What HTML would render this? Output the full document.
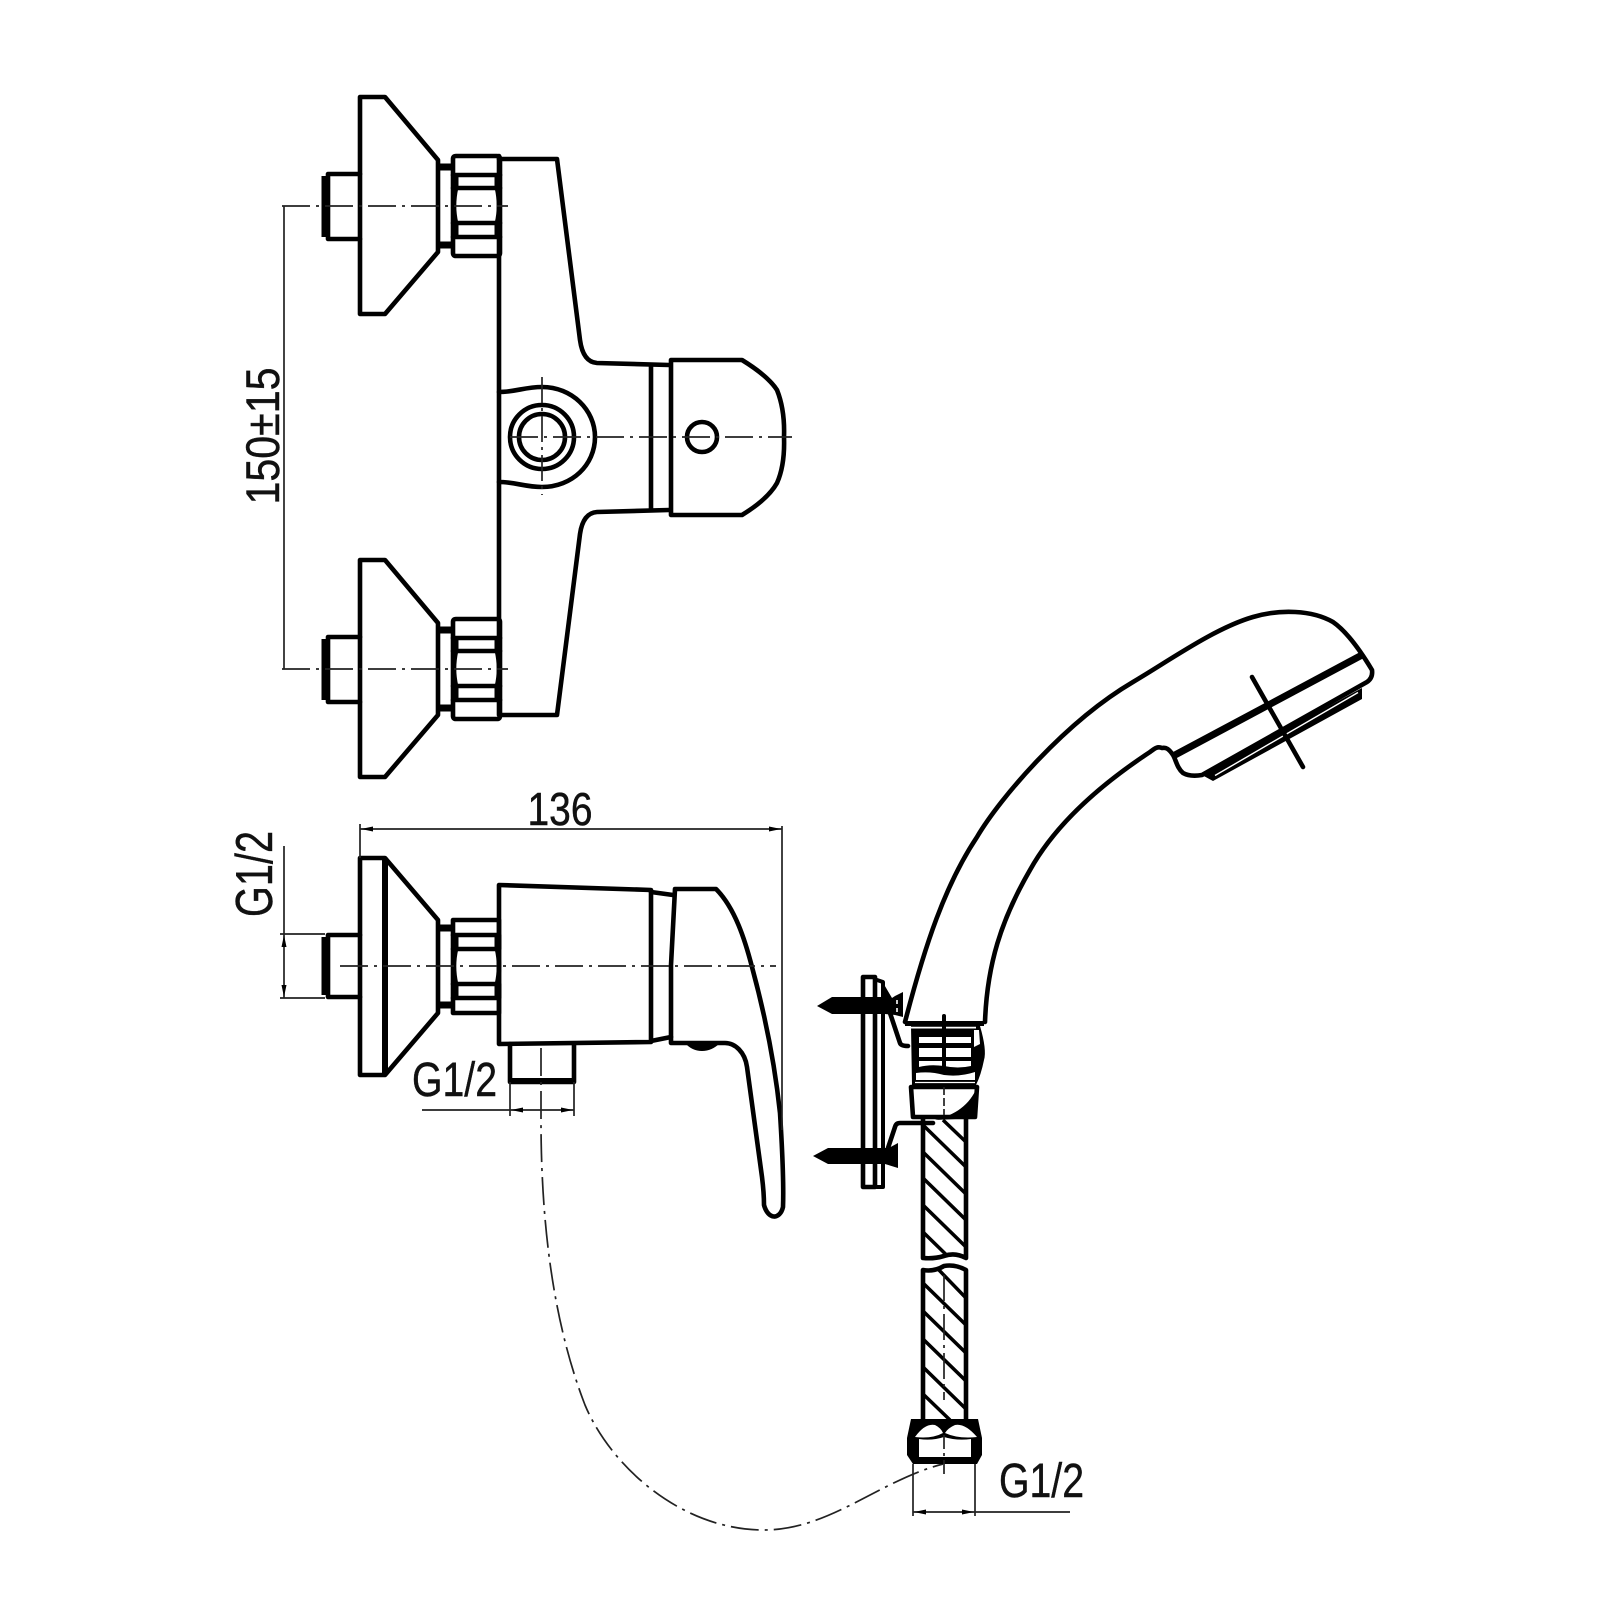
<!DOCTYPE html>
<html><head><meta charset="utf-8"><style>
html,body{margin:0;padding:0;background:#fff}
svg{display:block}
text{font-family:"Liberation Sans Narrow","Liberation Sans",sans-serif;fill:#111;stroke:#111;stroke-width:.45}
.o{fill:none;stroke:#000;stroke-width:4.6;stroke-linejoin:round;stroke-linecap:round}
.b{fill:none;stroke:#000;stroke-linecap:butt;stroke-linejoin:round}
.t{fill:none;stroke:#000;stroke-width:6;stroke-linejoin:round}
.m{fill:none;stroke:#000;stroke-width:3.5;stroke-linecap:butt}
.d{fill:none;stroke:#222;stroke-width:1.7}
.c{fill:none;stroke:#222;stroke-width:1.7;stroke-dasharray:28 6 3 6}
</style></head><body>
<svg xmlns="http://www.w3.org/2000/svg" width="1600" height="1600" viewBox="0 0 1600 1600">
<defs>
<g id="nutset">
<path class="b" stroke-width="7" d="M438 167H453M438 245H453"/>
<path class="o" d="M453 159Q453 156 456 156H497Q500 156 500 159V253Q500 256 497 256H456Q453 256 453 253Z"/>
<path class="o" d="M453 175H500M453 188H500M453 223H500M453 237H500" style="stroke-width:4.6"/>
<path class="b" stroke-width="7" d="M455 175V188M455 223V237M498 175V188M498 223V237"/>
<path class="o" d="M456 188Q452 206 456 223M497 188Q501 206 497 223"/>
</g>
<g id="mount">
<path class="o" d="M360 97H385L438 160V252L385 314H360Z"/>
<path class="o" d="M360 174H328V239H360"/>
<path d="M325 176V237" class="t" style="stroke-width:7"/>
<use href="#nutset"/>
</g>
<polygon id="arL" points="0,0 12,-2.5 12,2.5"/>
</defs>

<!-- top view body -->
<use href="#mount"/>
<use href="#mount" y="463"/>
<path class="o" d="M499 159H557L580 340Q583 362 597 363L669 365"/>
<path class="o" d="M499 156V715H557L580 534Q583 513 597 512L669 510"/>
<path class="o" d="M651 365V510"/>
<path class="o" d="M671 360H742Q768 376 777 390Q785 410 784 437Q785 465 777 483Q768 499 742 515H671Z"/>
<circle class="o" cx="702" cy="437" r="15"/>
<circle class="o" cx="542" cy="437" r="32"/>
<circle class="o" cx="542" cy="437" r="23"/>
<path class="o" d="M499 392C515 392 525 387 542 387C572 387 595 410 595 437C595 465 572 487 542 487C525 487 515 482 499 482"/>
<path class="c" d="M510 437H792"/>
<path class="c" d="M542 377V495" style="stroke-dasharray:26 5 3 5"/>
<path class="c" d="M282 206H508"/>
<path class="c" d="M282 669H508"/>
<path class="d" d="M284 206V669"/>
<text transform="translate(279,436) rotate(-90)" font-size="47" text-anchor="middle" textLength="137" lengthAdjust="spacingAndGlyphs">150±15</text>

<!-- side view -->
<path class="o" d="M360 858H385L438 920V1013L385 1075H360Z"/>
<path class="t" d="M385 858V1075"/>
<path class="o" d="M360 935H328V997H360"/>
<path class="t" d="M325 937V995" style="stroke-width:7"/>
<path class="b" stroke-width="7" d="M438 928H453M438 1005H453"/>
<path class="o" d="M453 920H499V1013H453Z"/>
<path class="o" d="M453 935H499M453 949H499M453 984H499M453 998H499"/>
<path class="b" stroke-width="7" d="M455 935V949M455 984V998M498 935V949M498 984V998"/>
<path class="o" d="M456 949Q452 966 456 984M497 949Q501 966 497 984"/>
<path class="o" d="M499 885L651 890V1042L499 1044Z"/>
<path class="o" d="M651 892L673 895M651 1041L671 1037"/>
<path class="o" d="M675 889H716C735 908 745 940 752 967C765 1015 775 1065 780 1113C782 1145 784 1180 783 1207C780 1220 768 1220 764 1205C764 1195 763 1185 762 1177L747 1067C745 1052 735 1043 725 1043H671L671 965Z"/>
<path d="M685 1043H720Q712 1051 702 1051Q692 1051 685 1043Z"/>
<path class="c" d="M340 966H776"/>
<path class="o" d="M510 1044V1082H574V1044"/>
<path class="t" d="M510 1081H574"/>

<!-- dimensions side -->
<path class="d" d="M360 824V858M782 826V1130"/>
<path class="d" d="M360 829H782"/>
<use href="#arL" transform="translate(361,829)"/>
<use href="#arL" transform="translate(781,829) rotate(180)"/>
<text x="560" y="825" font-size="46" text-anchor="middle" textLength="65" lengthAdjust="spacingAndGlyphs">136</text>
<path class="d" d="M284 846V998M280 934H325M280 998H325"/>
<use href="#arL" transform="translate(284,935) rotate(90)"/>
<use href="#arL" transform="translate(284,997) rotate(-90)"/>
<text transform="translate(272,874) rotate(-90)" font-size="52" text-anchor="middle" textLength="86" lengthAdjust="spacingAndGlyphs">G1/2</text>
<text x="412" y="1096" font-size="48" textLength="85" lengthAdjust="spacingAndGlyphs">G1/2</text>
<path class="d" d="M422 1110H574M510 1082V1116M574 1082V1116"/>
<use href="#arL" transform="translate(511,1110)"/>
<use href="#arL" transform="translate(573,1110) rotate(180)"/>
<path class="c" d="M541 1048V1120C541 1250 560 1340 585 1405C610 1465 680 1530 764 1530C830 1530 880 1480 943 1464"/>

<!-- shower head -->
<path class="o" d="M905 1022C925 945 945 885 977 837C1000 798 1065 722 1133 682C1170 660 1215 628 1253 617C1280 609 1312 610 1333 622C1346 631 1360 650 1372 670Q1373 678 1367 682L1202 775Q1190 777 1183 773C1177 768 1176 760 1173 755C1169 749 1166 747 1162 748C1157 746 1154 749 1150 752C1100 785 1055 825 1030 870C1001 920 987 965 985 1022"/>
<path d="M1175 755L1362 655" fill="none" stroke="#000" stroke-width="7"/>
<path d="M1202 775L1213 781L1362 699V688Z"/>
<path d="M1215 775.5L1358 692.5" fill="none" stroke="#fff" stroke-width="1.4"/>
<path d="M1252 677L1303 767" class="o"/>

<!-- wall bracket -->
<path class="o" d="M863 977H875V1187H863Z"/>
<path class="o" d="M877 980L883 982V1187H877" style="stroke-width:4"/>
<path d="M817 1006L832 997H862V1014H832Z"/>
<path d="M813 1156L828 1148H862V1164H828Z"/>
<path d="M862 997H891V1014H862ZM862 1148H890V1164H862Z"/>
<path d="M882 981L892 998L895 996L903 992V1017L895 1015L885 1014Z"/>
<path d="M885 1150L898 1143V1168L885 1164Z"/>
<path d="M897 1000V1004M897 1008V1012" stroke="#fff" stroke-width="1.6"/>
<path class="o" d="M890 1013L900 1043Q901 1046 908 1046"/>
<path class="o" d="M888 1148L895 1127Q896 1123 900 1123H933"/>

<!-- hose connector -->
<path d="M905 1021H984V1026L980 1026Q987 1050 984 1060Q981 1075 976 1085H912L911 1026H905Z"/>
<path d="M911 1027.6H976" stroke="#fff" stroke-width="1.8"/>
<path fill="#fff" d="M919 1037H971V1043H919ZM919 1048H971V1057H919ZM919 1061H971V1066Q958 1069 944 1066Q930 1064 919 1067ZM974 1030H979L980 1044L974 1047Z"/>
<path fill="#fff" d="M916 1073Q930 1071 944 1075Q960 1077 975 1072V1080H916Z"/>
<path d="M915 1082.5H975" stroke="#fff" stroke-width="1.3"/>
<path class="o" d="M911 1087H977L975 1117H913Z"/>
<path d="M977 1087C970 1105 955 1115 935 1120L976 1118Z"/>
<path class="o" d="M944 1016V1068" style="stroke-width:4"/>
<path class="c" d="M944 1087V1115" style="stroke-dasharray:8 3"/>

<!-- hose upper -->
<clipPath id="h1"><path d="M923 1118H966V1258Q955 1252 944 1256Q934 1259 923 1258Z"/></clipPath>
<path class="o" d="M923 1118V1258Q934 1259 944 1256Q955 1252 966 1258V1118"/>
<g clip-path="url(#h1)"><path class="m" d="M923 1125L966 1167M923 1152L966 1194M923 1178L966 1220M923 1205L966 1247M923 1232L966 1274M943 1120L966 1142"/></g>
<!-- hose lower -->
<clipPath id="h2"><path d="M923 1270Q934 1272 944 1266Q955 1264 966 1270V1420H923Z"/></clipPath>
<path class="o" d="M923 1420V1270Q934 1272 944 1266Q955 1264 966 1270V1420"/>
<g clip-path="url(#h2)"><path class="m" d="M937 1268L966 1298M923 1283L966 1325M923 1311L966 1353M923 1339L966 1381M923 1367L966 1409M923 1394L950 1420"/></g>
<path class="c" d="M944 1275V1400" style="stroke-dasharray:26 5 3 5"/>

<!-- hose nut -->
<path d="M911 1419H978L982 1438V1455L977 1464H913L907 1455V1438Z"/>
<path fill="#fff" d="M919 1439Q932 1441 944 1437Q957 1441 971 1439V1457H919Z"/>
<path fill="#fff" d="M915 1437Q925 1423 935 1425Q941 1428 943 1433Q932 1439 915 1437ZM945 1433Q948 1428 955 1425Q965 1423 977 1437Q958 1439 945 1433Z"/>
<path class="c" d="M944 1435V1478" style="stroke-dasharray:14 4 3 4"/>
<path class="d" d="M913 1464V1516M975 1464V1516M913 1512H1070"/>
<use href="#arL" transform="translate(914,1512)"/>
<use href="#arL" transform="translate(974,1512) rotate(180)"/>
<text x="999" y="1497" font-size="48" textLength="85" lengthAdjust="spacingAndGlyphs">G1/2</text>
</svg>
</body></html>
